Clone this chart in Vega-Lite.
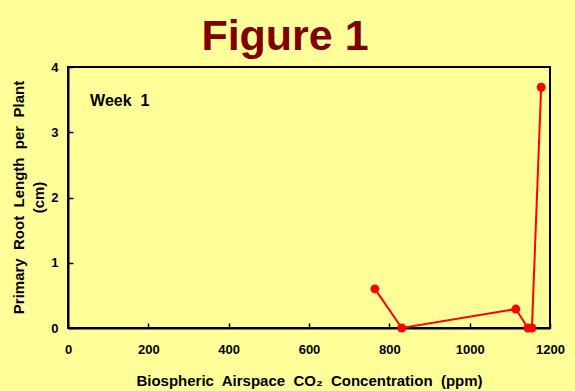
{
  "$schema": "https://vega.github.io/schema/vega-lite/v6.json",
  "autosize": "none",
  "width": 482,
  "height": 261,
  "padding": {"left": 68, "top": 67, "right": 25, "bottom": 63},
  "background": "#FFFF99",
  "title": {
    "text": "Figure 1",
    "font": "Liberation Sans",
    "fontSize": 43,
    "fontWeight": "bold",
    "color": "#800000",
    "anchor": "middle",
    "offset": 2,
    "dx": -24
  },
  "config": {
    "view": {"stroke": "#000000", "strokeWidth": 2, "fill": "#FFFF99"},
    "axis": {
      "labelFont": "Liberation Sans",
      "labelFontWeight": "bold",
      "labelFontSize": 13,
      "labelColor": "#000000",
      "labelFlush": false,
      "titleFont": "Liberation Sans",
      "titleFontWeight": "bold",
      "titleFontSize": 15,
      "titleColor": "#000000",
      "domainColor": "#000000",
      "domainWidth": 2,
      "tickColor": "#000000",
      "tickWidth": 1.5,
      "tickSize": -5,
      "grid": false
    }
  },
  "data": {
    "values": [
      {"co2": 764, "length": 0.6},
      {"co2": 831, "length": 0.0},
      {"co2": 1115, "length": 0.29},
      {"co2": 1145, "length": 0.0},
      {"co2": 1155, "length": 0.0},
      {"co2": 1178, "length": 3.69}
    ]
  },
  "layer": [
    {
      "mark": {"type": "line", "color": "#FF0000", "strokeWidth": 2},
      "encoding": {
        "x": {
          "field": "co2",
          "type": "quantitative",
          "scale": {"domain": [0, 1200], "nice": false},
          "axis": {
            "values": [0, 200, 400, 600, 800, 1000, 1200],
            "format": "d",
            "labelPadding": 20,
            "title": "Biospheric\u00a0 Airspace\u00a0 CO₂\u00a0 Concentration\u00a0 (ppm)",
            "titlePadding": 17
          }
        },
        "y": {
          "field": "length",
          "type": "quantitative",
          "scale": {"domain": [0, 4], "nice": false},
          "axis": {
            "values": [0, 1, 2, 3, 4],
            "format": "d",
            "labelPadding": 15,
            "title": ["Primary\u00a0 Root\u00a0 Length\u00a0 per\u00a0 Plant", "(cm)"],
            "titleX": -50,
            "titleY": 130,
            "titleAngle": -90,
            "titleAlign": "center",
            "titleBaseline": "middle",
            "titleLineHeight": 20
          }
        },
        "order": {"field": "co2"}
      }
    },
    {
      "mark": {"type": "circle", "color": "#FF0000", "opacity": 1, "size": 80},
      "encoding": {
        "x": {"field": "co2", "type": "quantitative"},
        "y": {"field": "length", "type": "quantitative"}
      }
    },
    {
      "data": {"values": [{"label": "Week\u00a0 1"}]},
      "mark": {"type": "text", "font": "Liberation Sans", "fontWeight": "bold", "fontSize": 16, "align": "left", "baseline": "middle", "color": "#000000"},
      "encoding": {
        "x": {"datum": 55},
        "y": {"datum": 3.48},
        "text": {"field": "label"}
      }
    }
  ]
}
